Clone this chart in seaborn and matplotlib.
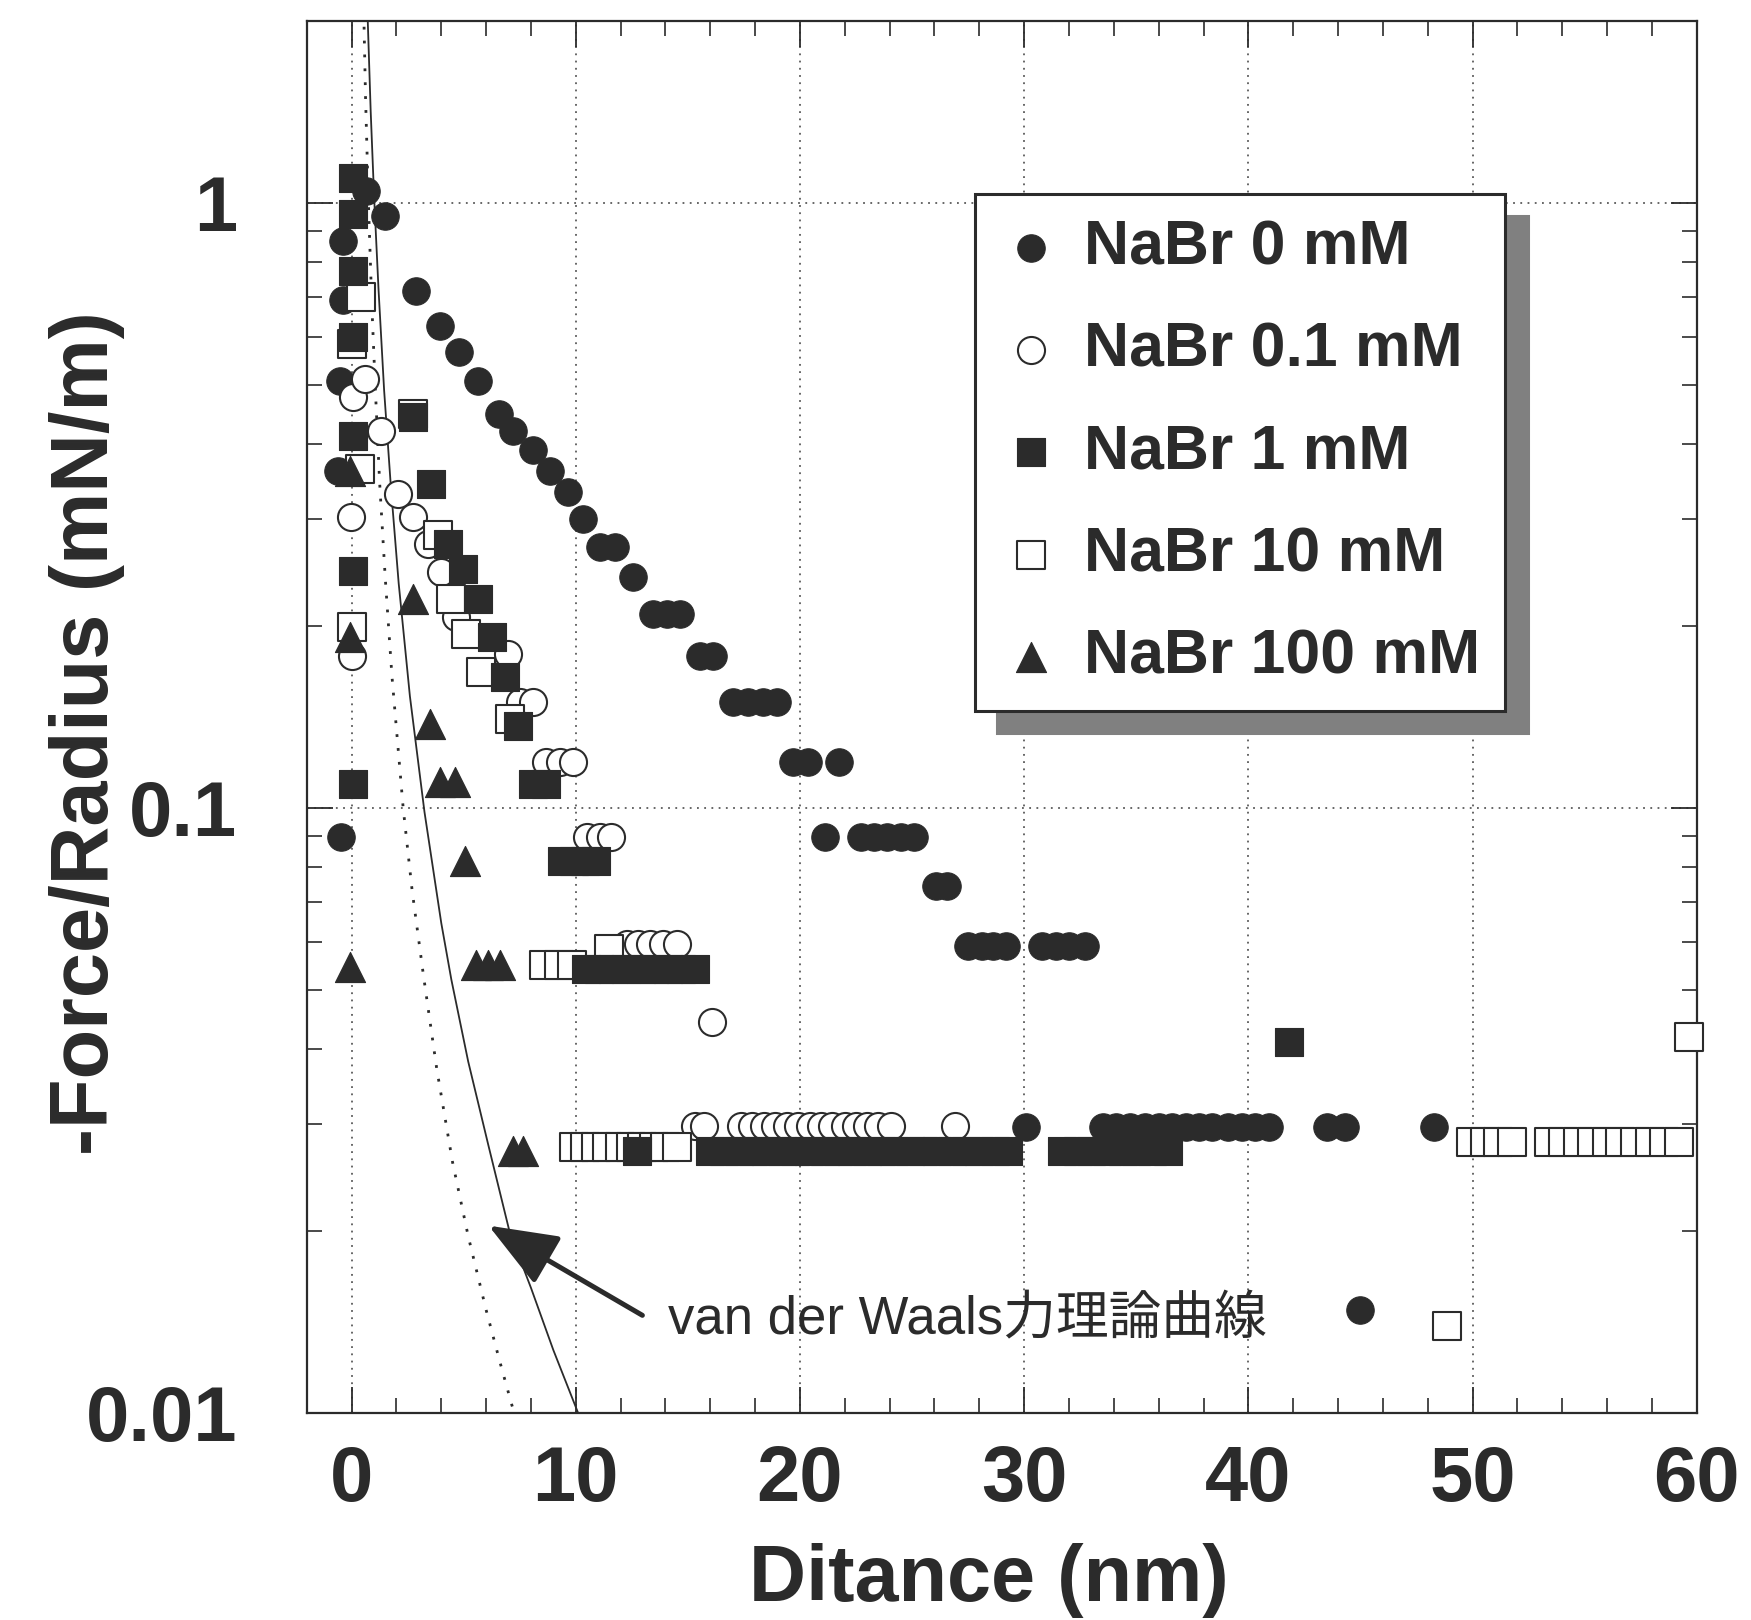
import matplotlib
matplotlib.use("Agg")
import matplotlib.pyplot as plt
import numpy as np
import pandas as pd
import seaborn as sns
from matplotlib.ticker import MultipleLocator, LogLocator, FuncFormatter, NullFormatter

# ---------------- measured force curves (distance in nm, -F/R in mN/m) ----------------
nabr0_x = [-0.39, 0.66, 1.47, -0.39, -0.54, -0.61, -0.46,
           2.89, 3.93, 4.79, 5.64, 6.56, 7.20, 8.09, 8.84, 9.66,
           10.33, 11.07, 11.74, 12.56, 13.46, 14.05, 14.64, 15.54, 16.13,
           17.02, 17.69, 18.36, 18.96, 19.70, 20.35, 21.75,
           21.13, 22.70, 23.30, 23.90, 24.50, 25.10, 26.05, 26.56,
           27.50, 28.10, 28.60, 29.20, 30.80, 31.40, 32.00, 32.70,
           30.10, 33.50, 34.10, 34.70, 35.40, 36.00, 36.60, 37.20, 37.80,
           38.40, 39.10, 39.70, 40.30, 40.90,
           43.50, 44.30, 48.30, 45.00]
nabr0_y = [0.866, 1.048, 0.953, 0.690, 0.508, 0.361, 0.0894,
           0.716, 0.627, 0.566, 0.508, 0.448, 0.420, 0.390, 0.361, 0.333,
           0.300, 0.270, 0.270, 0.2405, 0.209, 0.209, 0.209, 0.1786, 0.1786,
           0.1494, 0.1494, 0.1494, 0.1494, 0.119, 0.119, 0.119,
           0.0894, 0.0894, 0.0894, 0.0894, 0.0894, 0.0894, 0.0744, 0.0744,
           0.0592, 0.0592, 0.0592, 0.0592, 0.0592, 0.0592, 0.0592, 0.0592,
           0.0297, 0.0297, 0.0297, 0.0297, 0.0297, 0.0297, 0.0297, 0.0297, 0.0297,
           0.0297, 0.0297, 0.0297, 0.0297, 0.0297,
           0.0297, 0.0297, 0.0297, 0.0148]

nabr01_x = [0.06, 0.58, 1.33, 2.07, -0.01, 2.74, 3.41, 4.00, 4.67, 0.00,
            6.98, 7.50, 8.09, 8.69, 9.29, 9.88, 10.48, 11.07, 11.59,
            12.27, 12.79, 13.31, 13.90, 14.50, 16.06,
            15.30, 15.70, 17.35, 17.85, 18.40, 18.90, 19.40, 19.90, 20.45,
            20.95, 21.45, 22.00, 22.50, 23.00, 23.50, 24.05, 26.93]
nabr01_y = [0.477, 0.512, 0.420, 0.330, 0.302, 0.302, 0.273, 0.245, 0.2065, 0.1785,
            0.1797, 0.1494, 0.1494, 0.119, 0.119, 0.119, 0.0894, 0.0894, 0.0894,
            0.0595, 0.0595, 0.0595, 0.0595, 0.0595, 0.0442,
            0.0298, 0.0298, 0.0298, 0.0298, 0.0298, 0.0298, 0.0298, 0.0298, 0.0298,
            0.0298, 0.0298, 0.0298, 0.0298, 0.0298, 0.0298, 0.0298, 0.0298]

nabr1_x = [0.06, 0.06, 0.06, 0.06, 0.06, 2.74, 3.56, 0.06, 4.30, 4.97, 5.64,
           6.24, 6.83, 7.42, 0.06, 8.09, 8.69,
           9.40, 9.90, 10.40, 10.90,
           10.45, 11.05, 11.65, 12.25, 12.90, 13.50, 14.10, 14.70, 15.30,
           12.75,
           16.0, 16.6, 17.3, 17.9, 18.5, 19.2, 19.8, 20.4, 21.1, 21.7, 22.3,
           23.0, 23.6, 24.2, 24.9, 25.5, 26.1, 26.8, 27.4, 28.0, 28.7, 29.3,
           31.7, 32.4, 33.0, 33.7, 34.4, 35.0, 35.7, 36.4,
           41.8]
nabr1_y = [1.10, 0.96, 0.773, 0.600, 0.412, 0.442, 0.343, 0.2467, 0.273, 0.248, 0.2216,
           0.1914, 0.1643, 0.1368, 0.1096, 0.1096, 0.1096,
           0.0818, 0.0818, 0.0818, 0.0818,
           0.0541, 0.0541, 0.0541, 0.0541, 0.0541, 0.0541, 0.0541, 0.0541, 0.0541,
           0.0271,
           0.0271, 0.0271, 0.0271, 0.0271, 0.0271, 0.0271, 0.0271, 0.0271, 0.0271, 0.0271, 0.0271,
           0.0271, 0.0271, 0.0271, 0.0271, 0.0271, 0.0271, 0.0271, 0.0271, 0.0271, 0.0271, 0.0271,
           0.0271, 0.0271, 0.0271, 0.0271, 0.0271, 0.0271, 0.0271, 0.0271,
           0.0410]

nabr10_x = [0.43, 0.00, 2.74, 0.36, 3.85, 4.45, 5.12, 5.79, 0.00, 7.05,
            8.58, 9.25, 9.84, 11.50,
            9.90, 10.40, 10.90, 11.40, 11.95, 12.45, 12.95, 13.50, 14.00, 14.50,
            48.87,
            49.95, 50.55, 51.15, 51.75, 53.40, 54.05, 54.70, 55.35, 56.00,
            56.60, 57.25, 57.90, 58.55, 59.20, 59.66]
nabr10_y = [0.698, 0.585, 0.448, 0.363, 0.282, 0.2216, 0.194, 0.1675, 0.199, 0.1403,
            0.0549, 0.0549, 0.0549, 0.0585,
            0.0275, 0.0275, 0.0275, 0.0275, 0.0275, 0.0275, 0.0275, 0.0275, 0.0275, 0.0275,
            0.0139,
            0.0280, 0.0280, 0.0280, 0.0280, 0.0280, 0.0280, 0.0280, 0.0280, 0.0280,
            0.0280, 0.0280, 0.0280, 0.0280, 0.0280, 0.0418]

nabr100_x = [-0.05, -0.09, 2.74, 3.48, 3.93, 4.60, 5.04, -0.09, 5.57, 6.08, 6.60, 7.20, 7.65]
nabr100_y = [0.361, 0.1914, 0.2216, 0.1377, 0.1102, 0.1102, 0.0818, 0.0545,
             0.0549, 0.0549, 0.0549, 0.0271, 0.0271]

# ---------------- van der Waals theoretical curves ----------------
vdw_solid_x = [0.68, 0.72, 0.85, 1.0, 1.2, 1.45, 1.75, 2.1, 2.6, 3.25, 4.0, 4.45,
               5.2, 6.1, 7.05, 8.0, 9.0, 10.15]
vdw_solid_y = [2.2, 2.0, 1.42, 1.03, 0.72, 0.49, 0.34, 0.235, 0.153, 0.0985, 0.0645, 0.052,
               0.0381, 0.0277, 0.0199, 0.0161, 0.0127, 0.0099]
vdw_dotted_x = [0.50, 0.55, 0.62, 0.75, 0.90, 1.05, 1.25, 1.50, 1.80, 2.30, 2.70, 3.20,
                3.80, 4.50, 5.20, 6.00, 6.60, 7.15, 7.30]
vdw_dotted_y = [2.2, 2.0, 1.5, 1.0, 0.68, 0.50, 0.345, 0.24, 0.165, 0.10, 0.073, 0.053,
                0.037, 0.026, 0.0196, 0.0148, 0.0122, 0.0103, 0.0099]

legend_order = ["NaBr 0 mM", "NaBr 0.1 mM", "NaBr 1 mM", "NaBr 10 mM", "NaBr 100 mM"]
x_label = "Ditance (nm)"
y_label = "-Force/Radius (mN/m)"
note_text = "van der Waals力理論曲線"

# ---------------- styling ----------------
sns.set_theme(style="white")
plt.rcParams["font.family"] = ["Liberation Sans", "Noto Sans CJK JP", "DejaVu Sans"]
plt.rcParams["font.weight"] = "bold"
plt.rcParams["axes.labelweight"] = "bold"

INK = "#2b2b2b"

fig, ax = plt.subplots(figsize=(17.51, 16.20), dpi=100)
fig.subplots_adjust(left=0.1752, right=0.9690, bottom=0.1278, top=0.9872)
ax.set_yscale("log")

# theory curves
sns.lineplot(x=vdw_solid_x, y=vdw_solid_y, ax=ax, color=INK, linewidth=1.3,
             sort=False, estimator=None, zorder=2)
sns.lineplot(x=vdw_dotted_x, y=vdw_dotted_y, ax=ax, color=INK, linewidth=2.0,
             linestyle=(0, (1, 4)), sort=False, estimator=None, zorder=2)

# measured series, drawn in stacking order
series = [
    ("NaBr 0 mM", nabr0_x, nabr0_y, "o", INK, 0.8, 390),
    ("NaBr 0.1 mM", nabr01_x, nabr01_y, "o", "white", 1.5, 380),
    ("NaBr 10 mM", nabr10_x, nabr10_y, "s", "white", 1.5, 380),
    ("NaBr 1 mM", nabr1_x, nabr1_y, "s", INK, 0.8, 380),
    ("NaBr 100 mM", nabr100_x, nabr100_y, "^", INK, 0.8, 470),
]
for i, (name, xs, ys, mk, face, lw, size) in enumerate(series):
    df = pd.DataFrame({"distance": xs, "force": ys})
    sns.scatterplot(data=df, x="distance", y="force", ax=ax, marker=mk, s=size,
                    color=INK, facecolor=face, edgecolor=INK, linewidth=lw,
                    label=name, zorder=3 + i, clip_on=(name != "NaBr 10 mM"))

ax.set_xlim(-2, 60)
ax.set_ylim(0.01, 2.0)

# axes, ticks and grid
ax.xaxis.set_major_locator(MultipleLocator(10))
ax.xaxis.set_minor_locator(MultipleLocator(2))
ax.yaxis.set_major_locator(LogLocator(base=10, numticks=10))
ax.yaxis.set_minor_locator(LogLocator(base=10, subs=np.arange(2, 10), numticks=20))
ax.yaxis.set_major_formatter(FuncFormatter(lambda v, p: f"{v:g}"))
ax.yaxis.set_minor_formatter(NullFormatter())

ax.tick_params(which="both", direction="in", bottom=True, left=True, top=True, right=True,
               color=INK, labelcolor=INK)
ax.tick_params(which="major", length=19, width=1.3, labelsize=56)
ax.tick_params(which="minor", length=10.5, width=1.2)
ax.tick_params(axis="y", which="major", pad=50)
ax.tick_params(axis="x", which="major", pad=22)

ax.grid(True, which="major", linestyle=(0, (1, 3)), linewidth=1.3, color="#5a5a5a")
ax.set_axisbelow(True)
for sp in ax.spines.values():
    sp.set_visible(True)
    sp.set_linewidth(1.6)
    sp.set_color(INK)

ax.set_xlabel(x_label, fontsize=57, color=INK)
ax.set_ylabel(y_label, fontsize=58.5, color=INK)
ax.xaxis.set_label_coords(0.4909, -0.12)
ax.xaxis.label.set_va("center")
ax.yaxis.set_label_coords(-0.158, 0.4884)
ax.yaxis.label.set_va("center")

# legend with drop shadow
handles, labels = ax.get_legend_handles_labels()
lookup = dict(zip(labels, handles))
leg = ax.legend([lookup[k] for k in legend_order], legend_order,
                loc="upper left", bbox_to_anchor=(0.4807, 0.8758), borderaxespad=0,
                fontsize=45, frameon=True, fancybox=False,
                shadow={"ox": 16, "oy": -16, "color": "#808080", "alpha": 1},
                markerscale=1.0, handlelength=1.0, handletextpad=0.35,
                labelspacing=0.69, borderpad=0.4)
frame = leg.get_frame()
frame.set_edgecolor(INK)
frame.set_linewidth(2.2)
frame.set_facecolor("white")
frame.set_alpha(1)
for t in leg.get_texts():
    t.set_color(INK)
leg.set_zorder(10)

# arrow and note for the theoretical curves
ax.annotate("", xy=(6.11, 0.0204), xytext=(12.97, 0.0145),
            arrowprops=dict(arrowstyle="-|>,head_length=0.43,head_width=0.17",
                            mutation_scale=100, lw=3.6, color=INK,
                            shrinkA=0, shrinkB=0), zorder=6)
ax.text(14.1, 0.0135, note_text, fontsize=38, fontweight="normal",
        family=["Liberation Sans", "Noto Sans CJK JP"], ha="left", va="baseline",
        color=INK, zorder=6)

fig.savefig("out.png", dpi=100, facecolor="white")
